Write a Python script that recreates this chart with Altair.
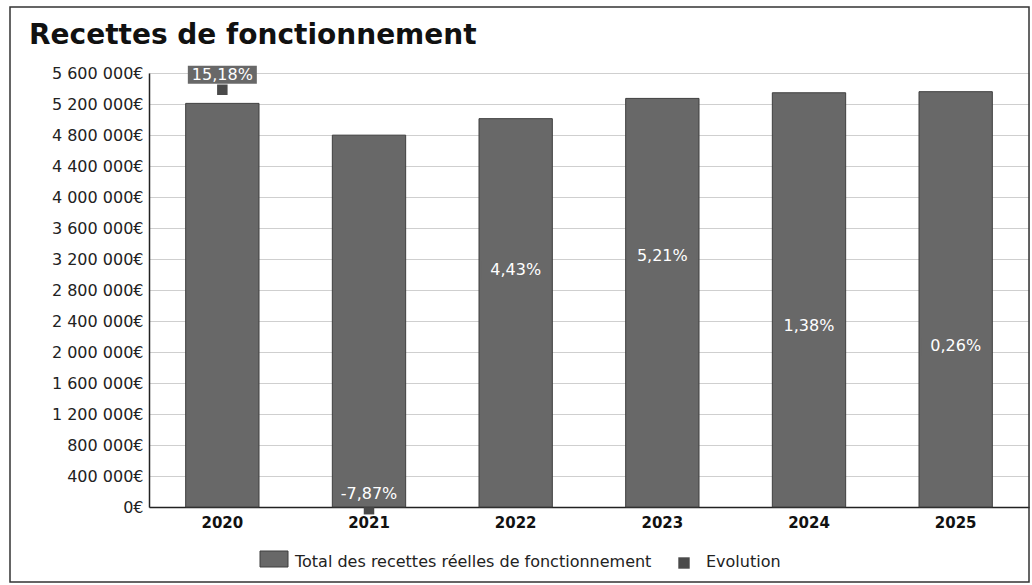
import altair as alt
import pandas as pd

# ---- data ----
years = ["2020", "2021", "2022", "2023", "2024", "2025"]
totals = [5208000, 4798000, 5011000, 5272000, 5345000, 5359000]
evolution = [15.18, -7.87, 4.43, 5.21, 1.38, 0.26]
y_ticks = [0, 400000, 800000, 1200000, 1600000, 2000000, 2400000, 2800000,
           3200000, 3600000, 4000000, 4400000, 4800000, 5200000, 5600000]
legend_labels = ["Total des recettes réelles de fonctionnement", "Evolution"]
title_text = ["Recettes de fonctionnement"]

df = pd.DataFrame({
    "annee": years,
    "total": totals,
    "evol": evolution,
    "label": [f"{v:.2f}".replace(".", ",") + "%" for v in evolution],
})

W, H = 880, 434
FONT = "DejaVu Sans"
BAR = "#686868"
DARK = "#4a4a4a"

x_enc = alt.X(
    "annee:N",
    sort=years,
    title=None,
    scale=alt.Scale(paddingInner=0.5, paddingOuter=0.25),
    axis=alt.Axis(labelAngle=0, labelFont=FONT, labelFontWeight="bold",
                  labelFontSize=15, labelColor="#111111", ticks=False,
                  domainColor="#222222", domainWidth=1.5, labelPadding=8,
                  grid=False),
)

evo_scale = alt.Scale(domain=[-7.75, 16.1])
y_evo = alt.Y("evol:Q", scale=evo_scale, axis=None)

base = alt.Chart(df)

markers = base.mark_square(size=110, color=DARK, opacity=1).encode(x=x_enc, y=y_evo)

bars = base.mark_bar(color=BAR, stroke="#3f3f3f", strokeWidth=1).encode(
    x=x_enc,
    y=alt.Y(
        "total:Q",
        title=None,
        scale=alt.Scale(domain=[0, 5600000], nice=False),
        axis=alt.Axis(values=y_ticks,
                      labelExpr="replace(format(datum.value, ','), regexp(',', 'g'), ' ') + '€'",
                      labelFont=FONT, labelFontSize=16, labelColor="#222222",
                      ticks=False, labelPadding=6, domainColor="#222222",
                      domainWidth=1.5, grid=True, gridColor="#cfcfcf",
                      gridWidth=1.2),
    ),
)

boxes = base.mark_point(
    shape="M-1,-0.26L1,-0.26L1,0.26L-1,0.26Z", size=4761, filled=True,
    color=BAR, opacity=1, yOffset=-15, strokeWidth=0,
).encode(x=x_enc, y=y_evo)

labels = base.mark_text(
    color="white", font=FONT, fontSize=16, baseline="middle", yOffset=-15,
).encode(x=x_enc, y=y_evo, text="label:N")

# legend (drawn by hand, outside the plot area)
leg_df = pd.DataFrame({"name": legend_labels})
leg_rect = alt.Chart(leg_df).transform_filter(alt.datum.name == legend_labels[0]).mark_rect(
    color=BAR, stroke="#3f3f3f", strokeWidth=1
).encode(x=alt.value(111), x2=alt.value(139), y=alt.value(478), y2=alt.value(494))
leg_txt1 = alt.Chart(leg_df).transform_filter(alt.datum.name == legend_labels[0]).mark_text(
    align="left", baseline="middle", font=FONT, fontSize=16, color="#222222"
).encode(x=alt.value(146), y=alt.value(489), text="name:N")
leg_sq = alt.Chart(leg_df).transform_filter(alt.datum.name == legend_labels[1]).mark_square(
    size=130, color=DARK, opacity=1
).encode(x=alt.value(535), y=alt.value(490))
leg_txt2 = alt.Chart(leg_df).transform_filter(alt.datum.name == legend_labels[1]).mark_text(
    align="left", baseline="middle", font=FONT, fontSize=16, color="#222222"
).encode(x=alt.value(557), y=alt.value(489), text="name:N")

# title, as real text above the plot
title_df = pd.DataFrame({"t": title_text})
title = alt.Chart(title_df).mark_text(
    align="left", baseline="alphabetic", font=FONT, fontSize=28,
    fontWeight="bold", color="#111111"
).encode(x=alt.value(-120), y=alt.value(-29), text="t:N")

frame = alt.Chart(leg_df).transform_filter(alt.datum.name == legend_labels[0]).mark_rect(
    filled=False, stroke="#333333", strokeWidth=1.5
).encode(x=alt.value(-139), x2=alt.value(880), y=alt.value(-66), y2=alt.value(509))

chart = alt.layer(
    markers, bars, boxes, labels, leg_rect, leg_txt1, leg_sq, leg_txt2, title, frame
).resolve_scale(y="independent").properties(
    width=W,
    height=H,
    autosize=alt.AutoSizeParams(type="none"),
    padding={"left": 149, "top": 73, "right": 3, "bottom": 78},
).configure_view(stroke=None).configure(background="white")

chart.save("out.html", embed_options={"renderer": "svg", "actions": False})
